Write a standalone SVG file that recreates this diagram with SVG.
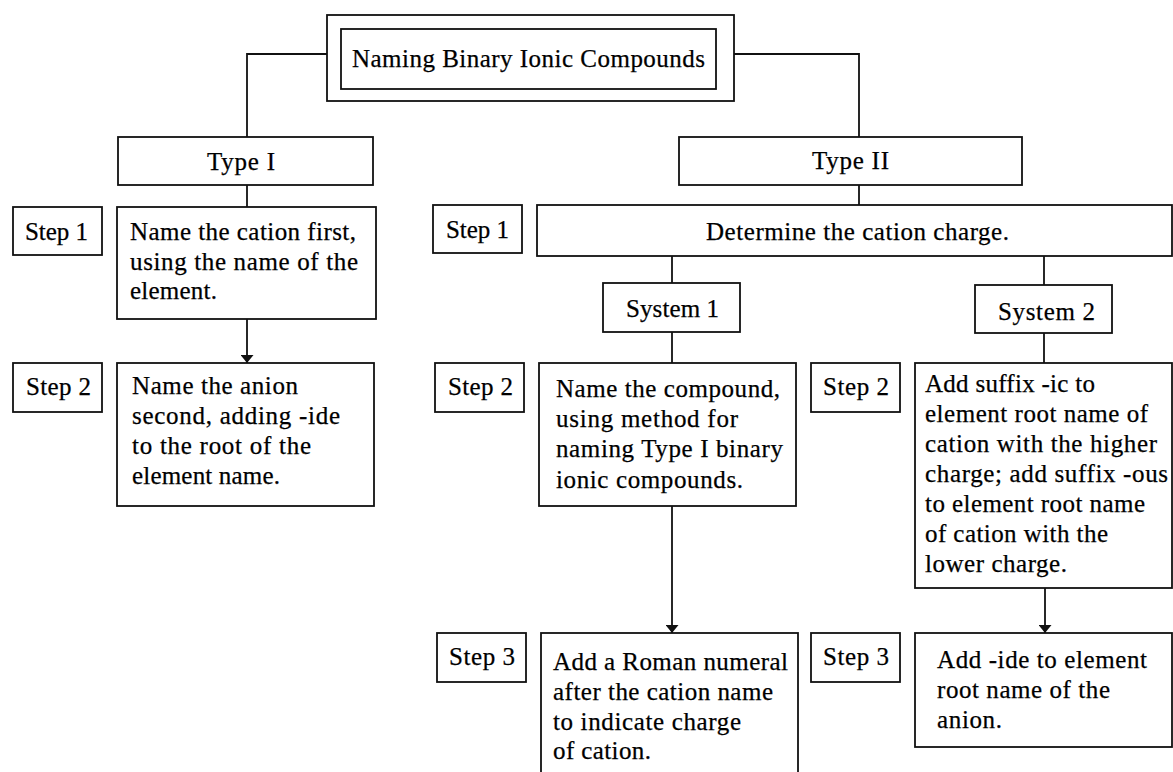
<svg xmlns="http://www.w3.org/2000/svg" width="1173" height="772" viewBox="0 0 1173 772">
<style>
rect{fill:#fff;stroke:#111;stroke-width:1.8}
text{font-family:"Liberation Serif","Times New Roman",serif;font-size:25px;fill:#000;stroke:#000;stroke-width:0.25}
.c line,.c polyline{stroke:#111;stroke-width:1.8;fill:none}
</style>
<defs>
<marker id="ah" markerUnits="userSpaceOnUse" markerWidth="8" markerHeight="13" viewBox="0 0 8 13" refX="8" refY="6.5" orient="auto"><path d="M0,0 L8,6.5 L0,13 z" fill="#111"/></marker>
</defs>
<rect x="0" y="0" width="1173" height="772" style="stroke:none"/>
<g class="c" id="connectors">
<polyline points="327,54 247,54 247,137"/>
<polyline points="734,54 859,54 859,137"/>
<line x1="247" y1="185" x2="247" y2="207"/>
<line x1="247" y1="319" x2="247" y2="363" marker-end="url(#ah)"/>
<line x1="859" y1="185" x2="859" y2="205"/>
<line x1="672" y1="256" x2="672" y2="283"/>
<line x1="1044" y1="256" x2="1044" y2="285"/>
<line x1="672" y1="332" x2="672" y2="363"/>
<line x1="1044" y1="333" x2="1044" y2="363"/>
<line x1="672" y1="506" x2="672" y2="633" marker-end="url(#ah)"/>
<line x1="1045" y1="588" x2="1045" y2="633" marker-end="url(#ah)"/>
</g>
<g id="title">
<rect x="327" y="15" width="407" height="86"/>
<rect x="341" y="29" width="375" height="60"/>
<text x="352" y="67" textLength="353" lengthAdjust="spacing">Naming Binary Ionic Compounds</text>
</g>
<g id="type1">
<rect x="118" y="137" width="255" height="48"/>
<text x="207" y="170" textLength="68" lengthAdjust="spacing">Type I</text>
</g>
<g id="type2">
<rect x="679" y="137" width="343" height="48"/>
<text x="812" y="169" textLength="77" lengthAdjust="spacing">Type II</text>
</g>
<g id="t1-step1-label">
<rect x="13" y="207" width="89" height="48"/>
<text x="25" y="240" textLength="63" lengthAdjust="spacing">Step 1</text>
</g>
<g id="t1-step1">
<rect x="117" y="207" width="259" height="112"/>
<text x="130" y="240" textLength="226" lengthAdjust="spacing">Name the cation first,</text>
<text x="130" y="270" textLength="228" lengthAdjust="spacing">using the name of the</text>
<text x="130" y="299" textLength="87" lengthAdjust="spacing">element.</text>
</g>
<g id="t1-step2-label">
<rect x="13" y="363" width="89" height="49"/>
<text x="26" y="395" textLength="65" lengthAdjust="spacing">Step 2</text>
</g>
<g id="t1-step2">
<rect x="117" y="363" width="257" height="143"/>
<text x="132" y="394" textLength="166" lengthAdjust="spacing">Name the anion</text>
<text x="132" y="424" textLength="208" lengthAdjust="spacing">second, adding -ide</text>
<text x="132" y="454" textLength="179" lengthAdjust="spacing">to the root of the</text>
<text x="132" y="484" textLength="148" lengthAdjust="spacing">element name.</text>
</g>
<g id="t2-step1-label">
<rect x="433" y="205" width="89" height="48"/>
<text x="446" y="238" textLength="63" lengthAdjust="spacing">Step 1</text>
</g>
<g id="t2-step1">
<rect x="537" y="205" width="635" height="51"/>
<text x="706" y="240" textLength="303" lengthAdjust="spacing">Determine the cation charge.</text>
</g>
<g id="system1">
<rect x="603" y="283" width="137" height="49"/>
<text x="626" y="317" textLength="93" lengthAdjust="spacing">System 1</text>
</g>
<g id="system2">
<rect x="975" y="285" width="137" height="48"/>
<text x="998" y="320" textLength="97" lengthAdjust="spacing">System 2</text>
</g>
<g id="s1-step2-label">
<rect x="435" y="363" width="89" height="49"/>
<text x="448" y="395" textLength="65" lengthAdjust="spacing">Step 2</text>
</g>
<g id="s1-step2">
<rect x="539" y="363" width="257" height="143"/>
<text x="556" y="397" textLength="224" lengthAdjust="spacing">Name the compound,</text>
<text x="556" y="427" textLength="182" lengthAdjust="spacing">using method for</text>
<text x="556" y="457" textLength="227" lengthAdjust="spacing">naming Type I binary</text>
<text x="556" y="488" textLength="187" lengthAdjust="spacing">ionic compounds.</text>
</g>
<g id="s2-step2-label">
<rect x="811" y="363" width="89" height="49"/>
<text x="823" y="395" textLength="66" lengthAdjust="spacing">Step 2</text>
</g>
<g id="s2-step2">
<rect x="915" y="363" width="257" height="225"/>
<text x="925" y="392" textLength="170" lengthAdjust="spacing">Add suffix -ic to</text>
<text x="925" y="422" textLength="223" lengthAdjust="spacing">element root name of</text>
<text x="925" y="452" textLength="232" lengthAdjust="spacing">cation with the higher</text>
<text x="925" y="482" textLength="243" lengthAdjust="spacing">charge; add suffix -ous</text>
<text x="925" y="512" textLength="220" lengthAdjust="spacing">to element root name</text>
<text x="925" y="542" textLength="183" lengthAdjust="spacing">of cation with the</text>
<text x="925" y="572" textLength="142" lengthAdjust="spacing">lower charge.</text>
</g>
<g id="s1-step3-label">
<rect x="437" y="633" width="89" height="49"/>
<text x="449" y="665" textLength="66" lengthAdjust="spacing">Step 3</text>
</g>
<g id="s1-step3">
<rect x="541" y="633" width="257" height="150"/>
<text x="553" y="670" textLength="235" lengthAdjust="spacing">Add a Roman numeral</text>
<text x="553" y="700" textLength="220" lengthAdjust="spacing">after the cation name</text>
<text x="553" y="730" textLength="188" lengthAdjust="spacing">to indicate charge</text>
<text x="553" y="759" textLength="98" lengthAdjust="spacing">of cation.</text>
</g>
<g id="s2-step3-label">
<rect x="811" y="633" width="89" height="49"/>
<text x="823" y="665" textLength="66" lengthAdjust="spacing">Step 3</text>
</g>
<g id="s2-step3">
<rect x="915" y="633" width="257" height="114"/>
<text x="937" y="668" textLength="210" lengthAdjust="spacing">Add -ide to element</text>
<text x="937" y="698" textLength="173" lengthAdjust="spacing">root name of the</text>
<text x="937" y="728" textLength="65" lengthAdjust="spacing">anion.</text>
</g>
</svg>
